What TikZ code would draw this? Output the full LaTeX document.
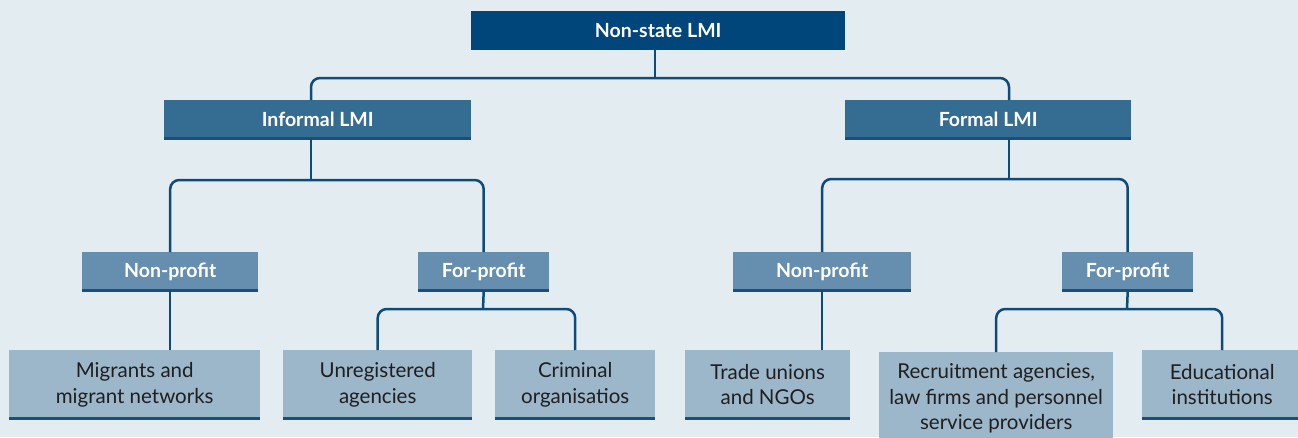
\documentclass[tikz,border=0pt]{standalone}
\usepackage{fontspec}
\setmainfont{Lato}
\definecolor{bgc}{HTML}{E3ECF0}
\definecolor{lv0}{HTML}{00467A}
\definecolor{lv1}{HTML}{356C91}
\definecolor{lv2}{HTML}{668FAF}
\definecolor{lv3}{HTML}{9CB6CA}
\definecolor{linec}{HTML}{0E4B7B}
\definecolor{edgec}{HTML}{1B4E7A}
\definecolor{txtc}{HTML}{1F1F1F}
\tikzset{
  boxbase/.style={anchor=north west, inner sep=0pt, align=center,
    font=\fontsize{20.5}{25.5}\selectfont},
  edged/.style={path picture={\draw[line width=5pt, edgec]
      (path picture bounding box.south west) -- (path picture bounding box.south east);}},
  rootbox/.style={boxbase, fill=lv0, text=white, font=\fontsize{19.5}{25.5}\selectfont\bfseries},
  midbox/.style={boxbase, fill=lv1, text=white, font=\fontsize{19.5}{25.5}\selectfont\bfseries, edged},
  subbox/.style={boxbase, fill=lv2, text=white, font=\fontsize{19.5}{25.5}\selectfont\bfseries, edged},
  leafbox/.style={boxbase, fill=lv3, text=txtc, edged},
  conn/.style={draw=linec, line width=2.5pt, rounded corners=9pt}
}
\begin{document}
\begin{tikzpicture}[x=1pt, y=-1pt]
\fill[bgc] (0,0) rectangle (1298,437);
\useasboundingbox (0,0) rectangle (1298,437);

% nodes
\node[rootbox, minimum width=374pt, minimum height=39pt] (root) at (471,11) {Non-state LMI};
\node[midbox, minimum width=307pt, minimum height=39pt] (inf) at (164,100) {Informal LMI};
\node[midbox, minimum width=286pt, minimum height=39pt] (frm) at (845,100) {Formal LMI};
\node[subbox, minimum width=176pt, minimum height=39pt] (np1) at (82,252) {Non-profit};
\node[subbox, minimum width=131pt, minimum height=39pt] (fp1) at (418,252) {For-profit};
\node[subbox, minimum width=178pt, minimum height=39pt] (np2) at (733,252) {Non-profit};
\node[subbox, minimum width=131pt, minimum height=39pt] (fp2) at (1062,252) {For-profit};
\node[leafbox, minimum width=251pt, minimum height=69pt] (mig) at (9,350) {Migrants and\\migrant networks};
\node[leafbox, minimum width=189pt, minimum height=69pt] (unr) at (283,350) {Unregistered\\agencies};
\node[leafbox, minimum width=160pt, minimum height=69pt] (cri) at (495,350) {Criminal\\organisatios};
\node[leafbox, minimum width=165pt, minimum height=69pt] (tra) at (685,350) {Trade unions\\and NGOs};
\node[leafbox, minimum width=234pt, minimum height=93pt] (rec) at (879,352) {Recruitment agencies,\\law firms and personnel\\service providers};
\node[leafbox, minimum width=160pt, minimum height=69pt] (edu) at (1142,350) {Educational\\institutions};

% junction coordinates
\coordinate (j0) at (655,78);
\coordinate (xi) at (311,0);
\coordinate (xf) at (1009,0);
\coordinate (j1) at (311,180);
\coordinate (j2) at (1009,179);
\coordinate (j3) at (483,309);
\coordinate (j4) at (1127,309);

% connectors
\draw[conn] (root.south -| j0) -- (j0);
\draw[conn] (inf.north -| xi) |- (j0) -| (frm.north -| xf);
\draw[conn] (inf.south -| xi) -- (j1);
\draw[conn] (np1.north) |- (j1) -| (fp1.north);
\draw[conn] (frm.south -| xf) -- (j2);
\draw[conn] (np2.north) |- (j2) -| (fp2.north);
\draw[conn] (np1.south) -- (np1.south |- mig.north);
\draw[conn] (np2.south) -- (np2.south |- tra.north);
\draw[conn] (fp1.south) -- (j3);
\draw[conn] (unr.north) |- (j3) -| (cri.north);
\draw[conn] (fp2.south) -- (j4);
\draw[conn] (rec.north) |- (j4) -| (edu.north);
\end{tikzpicture}
\end{document}
